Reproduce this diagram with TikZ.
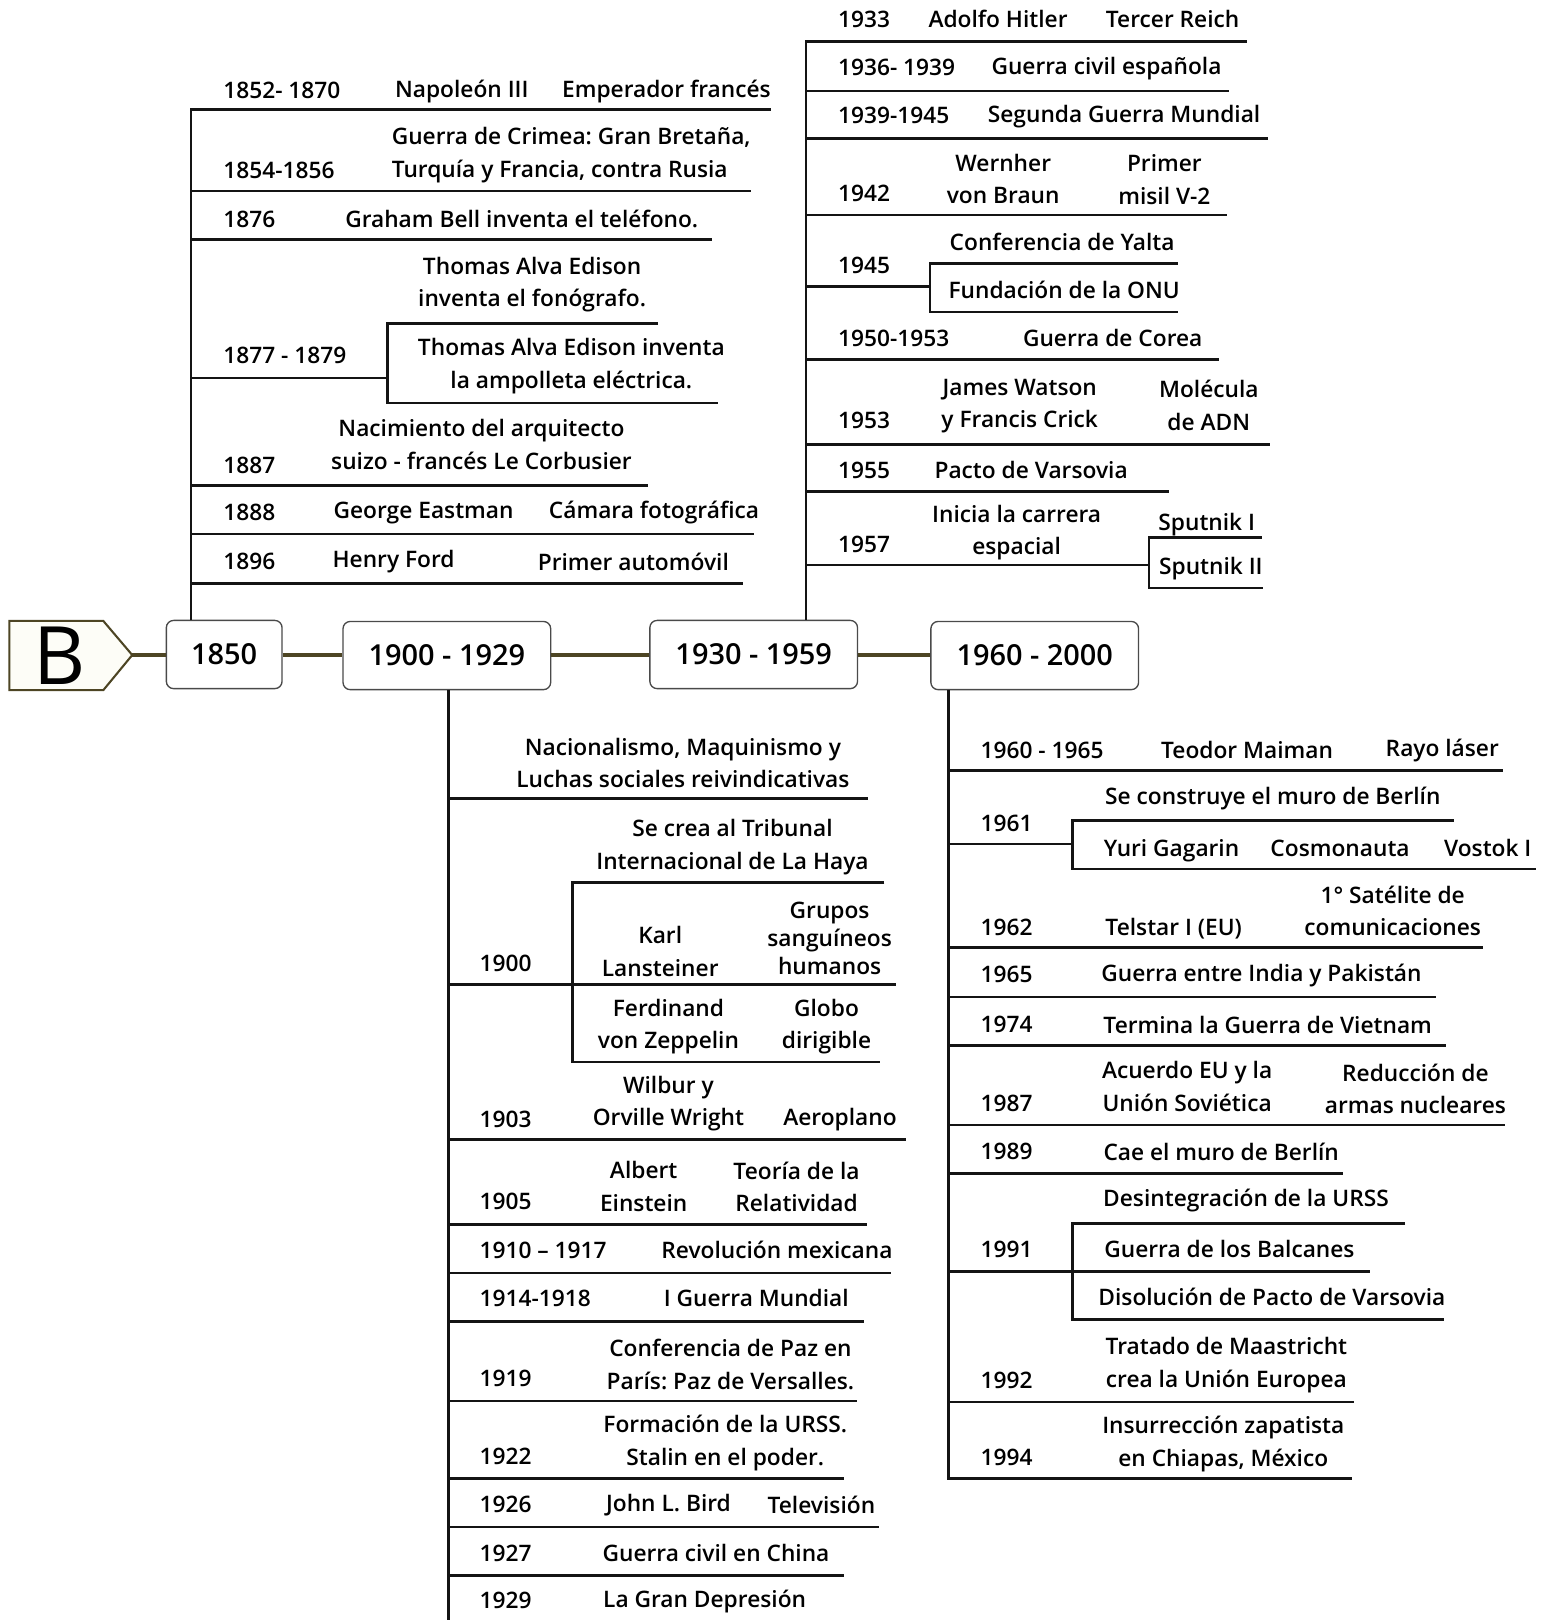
\documentclass[tikz,border=0pt]{standalone}
\usepackage{fontspec}
% semibold face when installed, regular otherwise
\IfFontExistsTF{Open Sans SemiBold}{\setmainfont{Open Sans SemiBold}}{%
  \IfFontExistsTF{Open Sans Semibold}{\setmainfont{Open Sans Semibold}}{%
    \IfFontExistsTF{OpenSans-SemiBold}{\setmainfont{OpenSans-SemiBold}}{%
      \IfFontExistsTF{OpenSans-Semibold}{\setmainfont{OpenSans-Semibold}}{%
        \setmainfont{Open Sans}}}}}
\newfontfamily\letterfont{Open Sans}
\frenchspacing
\definecolor{axisolive}{HTML}{4D4524}
\definecolor{boxgray}{HTML}{4A4A4A}
\definecolor{tagfill}{HTML}{FDFDF7}
\newcommand\evfont{\fontsize{22}{31.5}\selectfont}
\newcommand\perfont{\fontsize{28}{34}\selectfont}
\newcommand\evstrut{\rule[-6pt]{0pt}{28pt}}
\tikzset{
  ev/.style={inner sep=0pt, align=center, font=\evfont,
             execute at begin node=\evstrut, execute at end node=\evstrut},
  ml/.style={ev, yshift=-2.5pt},
  yr/.style={ev, anchor=west},
  branch/.style={draw=black!92, line width=2.6pt, line join=miter},
  period/.style={draw=boxgray, line width=1.3pt, rounded corners=7pt, fill=white,
                 minimum height=66pt, inner sep=0pt, font=\perfont},
  axis/.style={draw=axisolive, line width=4pt}
}
\begin{document}
\begin{tikzpicture}[x=1pt,y=-1pt]
\useasboundingbox (0,0) rectangle (1499,1568);

% ---------- main axis ----------
\draw[draw=axisolive, line width=2pt, fill=tagfill, line join=miter]
  (9,601) -- (100,601) -- (128,634) -- (100,668) -- (9,668) -- cycle;
\node[inner sep=0pt, font=\letterfont\fontsize{78}{80}\selectfont] (bmark) at (58,634.5) {B};
\coordinate (btip) at (128,634);

\node[period, minimum width=112pt] (p1850) at (217,633.5) {1850};
\node[period, minimum width=201pt] (p1900) at (432.5,634.5) {1900 - 1929};
\node[period, minimum width=201pt] (p1930) at (729.5,633.5) {1930 - 1959};
\node[period, minimum width=201pt] (p1960) at (1001.5,634.5) {1960 - 2000};

\draw[axis] (btip) -- (btip -| p1850.west);
\draw[axis] (btip -| p1850.east) -- (btip -| p1900.west);
\draw[axis] (btip -| p1900.east) -- (btip -| p1930.west);
\draw[axis] (btip -| p1930.east) -- (btip -| p1960.west);

% ---------- 1850 (upwards) ----------
\draw[branch] (185,600) coordinate (a1foot) -- (185,106) -- (746,106) coordinate (a1end);
\draw[branch] (185,185) coordinate (a2) -- (727,185) coordinate (a2end);
\draw[branch] (185,232) coordinate (a3) -- (689,232) coordinate (a3end);
\draw[branch] (185,366) coordinate (a4) -- (375,366) coordinate (a4j);
\draw[branch] (637,313) coordinate (a4t) -- (375,313) -- (375,390) -- (695,390) coordinate (a4b);
\draw[branch] (185,470) coordinate (a5) -- (627,470) coordinate (a5end);
\draw[branch] (185,517) coordinate (a6) -- (730,517) coordinate (a6end);
\draw[branch] (185,565) coordinate (a7) -- (719,565) coordinate (a7end);

\node[yr] (y1852) at (216,87) {1852- 1870};
\node[ev] (e1852a) at (447,86) {Napoleón III};
\node[ev] (e1852b) at (645,86) {Emperador francés};
\node[ml, anchor=west, align=left] (e1854) at (379,148) {Guerra de Crimea: Gran Bretaña,\\Turquía y Francia, contra Rusia};
\node[yr] (y1854) at (216,165) {1854-1856};
\node[yr] (y1876) at (216,212) {1876};
\node[ev] (e1876) at (505,212) {Graham Bell inventa el teléfono.};
\node[ml] (e1877a) at (515,273.5) {Thomas Alva Edison\\inventa el fonógrafo.};
\node[yr] (y1877) at (216,344) {1877 - 1879};
\node[ml] (e1877b) at (553,352) {Thomas Alva Edison inventa\\la ampolleta eléctrica.};
\node[ml] (e1887) at (466,430.5) {Nacimiento del arquitecto\\suizo - francés Le Corbusier};
\node[yr] (y1887) at (216,450) {1887};
\node[yr] (y1888) at (216,496) {1888};
\node[ev] (e1888a) at (410,494) {George Eastman};
\node[ev] (e1888b) at (633,494) {Cámara fotográfica};
\node[yr] (y1896) at (216,543) {1896};
\node[ev] (e1896a) at (381,541) {Henry Ford};
\node[ev] (e1896b) at (613,544) {Primer automóvil};

% ---------- 1930 - 1959 (upwards) ----------
\draw[branch] (780,600) coordinate (b0foot) -- (780,40) -- (1207,40) coordinate (b1end);
\draw[branch] (780,88) coordinate (b2) -- (1190,88) coordinate (b2end);
\draw[branch] (780,134) coordinate (b3) -- (1227,134) coordinate (b3end);
\draw[branch] (780,208) coordinate (b4) -- (1188,208) coordinate (b4end);
\draw[branch] (780,277) coordinate (b5) -- (900,277) coordinate (b5j);
\draw[branch] (1140,255) coordinate (b5t) -- (900,255) -- (900,302) -- (1140,302) coordinate (b5b);
\draw[branch] (780,348) coordinate (b6) -- (1180,348) coordinate (b6end);
\draw[branch] (780,430) coordinate (b7) -- (1229,430) coordinate (b7end);
\draw[branch] (780,476) coordinate (b8) -- (1131,476) coordinate (b8end);
\draw[branch] (780,547) coordinate (b9) -- (1112,547) coordinate (b9j);
\draw[branch] (1221,520) coordinate (b9t) -- (1112,520) -- (1112,569) -- (1222,569) coordinate (b9b);

\node[yr] (y1933) at (811,19) {1933};
\node[ev] (e1933a) at (966,19) {Adolfo Hitler};
\node[ev] (e1933b) at (1135,19) {Tercer Reich};
\node[yr] (y1936) at (811,65) {1936- 1939};
\node[ev] (e1936) at (1071,64) {Guerra civil española};
\node[yr] (y1939) at (811,112) {1939-1945};
\node[ev] (e1939) at (1088,111) {Segunda Guerra Mundial};
\node[yr] (y1942) at (811,187) {1942};
\node[ml] (e1942a) at (971,173.5) {Wernher\\von Braun};
\node[ml] (e1942b) at (1127,174) {Primer\\misil V-2};
\node[yr] (y1945) at (811,257) {1945};
\node[ev] (e1945a) at (1028,234) {Conferencia de Yalta};
\node[ev] (e1945b) at (1030,281) {Fundación de la ONU};
\node[yr] (y1950) at (811,327) {1950-1953};
\node[ev] (e1950) at (1077,327) {Guerra de Corea};
\node[yr] (y1953) at (811,407) {1953};
\node[ml] (e1953a) at (987,391) {James Watson\\y Francis Crick};
\node[ml] (e1953b) at (1170,393) {Molécula\\de ADN};
\node[yr] (y1955) at (811,455) {1955};
\node[ev] (e1955) at (998,455) {Pacto de Varsovia};
\node[yr] (y1957) at (811,527) {1957};
\node[ml] (e1957a) at (984,513.5) {Inicia la carrera\\espacial};
\node[ev] (e1957b) at (1168,505) {Sputnik I};
\node[ev] (e1957c) at (1172,548) {Sputnik II};

% ---------- 1900 - 1929 (downwards) ----------
\draw[branch] (434,668) coordinate (c0top) -- (434,1568) coordinate (c0foot);
\draw[branch] (434,773) coordinate (c1) -- (840,773) coordinate (c1end);
\draw[branch] (434,953) coordinate (c2) -- (867,953) coordinate (c2end);
\draw[branch] (856,854) coordinate (c2t) -- (554,854) -- (554,1028) -- (852,1028) coordinate (c2b);
\draw[branch] (434,1103) coordinate (c3) -- (877,1103) coordinate (c3end);
\draw[branch] (434,1185) coordinate (c4) -- (839,1185) coordinate (c4end);
\draw[branch] (434,1232) coordinate (c5) -- (862,1232) coordinate (c5end);
\draw[branch] (434,1279) coordinate (c6) -- (836,1279) coordinate (c6end);
\draw[branch] (434,1356) coordinate (c7) -- (829,1356) coordinate (c7end);
\draw[branch] (434,1431) coordinate (c8) -- (817,1431) coordinate (c8end);
\draw[branch] (434,1478) coordinate (c9) -- (851,1478) coordinate (c9end);
\draw[branch] (434,1525) coordinate (c10) -- (817,1525) coordinate (c10end);

\node[ml] (e1900a) at (661,739) {Nacionalismo, Maquinismo y\\Luchas sociales reivindicativas};
\node[ml] (e1900b) at (709,817.5) {Se crea al Tribunal\\Internacional de La Haya};
\node[yr] (y1900) at (464,932) {1900};
\node[ml] (e1900c) at (639,921.5) {Karl\\Lansteiner};
\node[ml, font=\fontsize{22}{27}\selectfont] (e1900d) at (803,908.5) {Grupos\\sanguíneos\\humanos};
\node[ml] (e1900e) at (647,991.5) {Ferdinand\\von Zeppelin};
\node[ml] (e1900f) at (800,991.5) {Globo\\dirigible};
\node[yr] (y1903) at (464,1083) {1903};
\node[ml] (e1903a) at (647,1066) {Wilbur y\\Orville Wright};
\node[ev] (e1903b) at (813,1081) {Aeroplano};
\node[yr] (y1905) at (464,1163) {1905};
\node[ml] (e1905a) at (623,1149) {Albert\\Einstein};
\node[ml] (e1905b) at (771,1149) {Teoría de la\\Relatividad};
\node[yr] (y1910) at (464,1210) {1910 – 1917};
\node[ev] (e1910) at (752,1210) {Revolución mexicana};
\node[yr] (y1914) at (464,1257) {1914-1918};
\node[ev] (e1914) at (732,1257) {I Guerra Mundial};
\node[yr] (y1919) at (464,1334) {1919};
\node[ml] (e1919) at (707,1321) {Conferencia de Paz en\\París: Paz de Versalles.};
\node[yr] (y1922) at (464,1409) {1922};
\node[ml] (e1922) at (702,1394.5) {Formación de la URSS.\\Stalin en el poder.};
\node[yr] (y1926) at (464,1456) {1926};
\node[ev] (e1926a) at (647,1455) {John L. Bird};
\node[ev] (e1926b) at (795,1457) {Televisión};
\node[yr] (y1927) at (464,1503) {1927};
\node[ev] (e1927) at (693,1503) {Guerra civil en China};
\node[yr] (y1929) at (464,1549) {1929};
\node[ev] (e1929) at (682,1548) {La Gran Depresión};

% ---------- 1960 - 2000 (downwards) ----------
\draw[branch] (918,668) coordinate (d0top) -- (918,1431) -- (1309,1431) coordinate (d0end);
\draw[branch] (918,746) coordinate (d1) -- (1455,746) coordinate (d1end);
\draw[branch] (918,817) coordinate (d2) -- (1038,817) coordinate (d2j);
\draw[branch] (1407,794) coordinate (d2t) -- (1038,794) -- (1038,841) -- (1487,841) coordinate (d2b);
\draw[branch] (918,917) coordinate (d3) -- (1435,917) coordinate (d3end);
\draw[branch] (918,965) coordinate (d4) -- (1390,965) coordinate (d4end);
\draw[branch] (918,1012) coordinate (d5) -- (1400,1012) coordinate (d5end);
\draw[branch] (918,1089) coordinate (d6) -- (1457,1089) coordinate (d6end);
\draw[branch] (918,1136) coordinate (d7) -- (1300,1136) coordinate (d7end);
\draw[branch] (918,1231) coordinate (d8) -- (1326,1231) coordinate (d8end);
\draw[branch] (1360,1184) coordinate (d8t) -- (1038,1184) -- (1038,1277) -- (1398,1277) coordinate (d8b);
\draw[branch] (918,1357) coordinate (d9) -- (1311,1357) coordinate (d9end);

\node[yr] (y1960) at (949,726) {1960 - 1965};
\node[ev] (e1960a) at (1207,726) {Teodor Maiman};
\node[ev] (e1960b) at (1396,724) {Rayo láser};
\node[ev] (e1961a) at (1232,771) {Se construye el muro de Berlín};
\node[yr] (y1961) at (949,797) {1961};
\node[ev] (e1961b) at (1134,821) {Yuri Gagarin};
\node[ev] (e1961c) at (1297,821) {Cosmonauta};
\node[ev] (e1961d) at (1440,821) {Vostok I};
\node[yr] (y1962) at (949,897) {1962};
\node[ev] (e1962a) at (1136,897) {Telstar I (EU)};
\node[ml] (e1962b) at (1348,882) {1° Satélite de\\comunicaciones};
\node[yr] (y1965) at (949,943) {1965};
\node[ev] (e1965) at (1221,942) {Guerra entre India y Pakistán};
\node[yr] (y1974) at (949,991) {1974};
\node[ev] (e1974) at (1227,992) {Termina la Guerra de Vietnam};
\node[yr] (y1987) at (949,1068) {1987};
\node[ml] (e1987a) at (1149,1052) {Acuerdo EU y la\\Unión Soviética};
\node[ml] (e1987b) at (1370,1054.5) {Reducción de\\armas nucleares};
\node[yr] (y1989) at (949,1114) {1989};
\node[ev] (e1989) at (1182,1115) {Cae el muro de Berlín};
\node[ev] (e1991a) at (1206,1160) {Desintegración de la URSS};
\node[yr] (y1991) at (949,1209) {1991};
\node[ev] (e1991b) at (1190,1209) {Guerra de los Balcanes};
\node[ev] (e1991c) at (1231,1256) {Disolución de Pacto de Varsovia};
\node[yr] (y1992) at (949,1336) {1992};
\node[ml] (e1992) at (1187,1319) {Tratado de Maastricht\\crea la Unión Europea};
\node[yr] (y1994) at (949,1410) {1994};
\node[ml] (e1994) at (1184,1395.5) {Insurrección zapatista\\en Chiapas, México};
\end{tikzpicture}
\end{document}
